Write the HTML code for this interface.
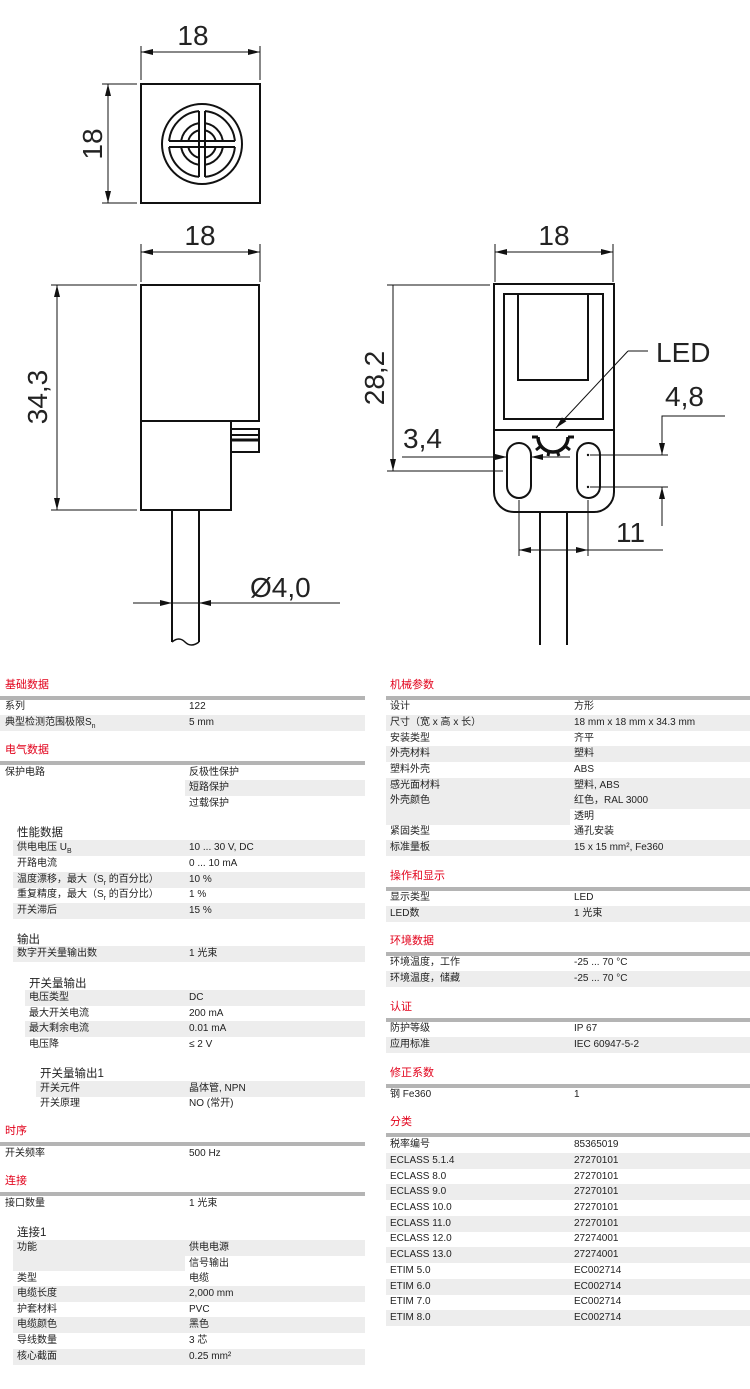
<!DOCTYPE html>
<html><head><meta charset="utf-8"><style>
body{margin:0;width:750px;height:1389px;background:#fff;position:relative;overflow:hidden;font-family:"Liberation Sans","Noto Sans CJK SC",sans-serif;color:#222}
svg{position:absolute;left:0;top:0}
.h{position:absolute;color:#e2001a;font-size:11px;line-height:14px}
.bar{position:absolute;height:4px;background:#b4b4b4}
.r{position:absolute;height:15.6px;font-size:10px;line-height:15.6px;white-space:nowrap}
.g{background:#ededed}
.s{position:absolute;font-size:11.5px;line-height:14px;color:#222}
sub{font-size:7px;vertical-align:-3px}
</style></head><body>
<svg width="750" height="670" viewBox="0 0 750 670" font-family="Liberation Sans, sans-serif" fill="none" stroke="#111">
<defs>
<marker id="a" viewBox="0 0 12 6" refX="12" refY="3" markerWidth="12" markerHeight="6" orient="auto-start-reverse" markerUnits="userSpaceOnUse"><path d="M0,0L12,3L0,6z" fill="#111" stroke="none"/></marker>
</defs>
<!-- top view -->
<rect x="141" y="84" width="119" height="119" stroke-width="2"/>
<g stroke-width="1">
<line x1="141" y1="46" x2="141" y2="80"/><line x1="260" y1="46" x2="260" y2="80"/>
<line x1="141" y1="52" x2="260" y2="52" marker-start="url(#a)" marker-end="url(#a)"/>
<line x1="102" y1="84" x2="137" y2="84"/><line x1="102" y1="203" x2="137" y2="203"/>
<line x1="108" y1="84" x2="108" y2="203" marker-start="url(#a)" marker-end="url(#a)"/>
</g>
<text x="193" y="45" font-size="28" fill="#222" stroke="none" text-anchor="middle">18</text>
<text transform="translate(102,144) rotate(-90)" font-size="28" fill="#222" stroke="none" text-anchor="middle">18</text>
<g stroke-width="2">
<circle cx="202" cy="144" r="40"/><circle cx="202" cy="144" r="33"/>
<circle cx="202" cy="144" r="21"/><circle cx="202" cy="144" r="14"/>
</g>
<rect x="199" y="109" width="6" height="70" fill="#fff" stroke="none"/>
<rect x="167" y="141" width="70" height="6" fill="#fff" stroke="none"/>
<g stroke-width="2">
<line x1="199" y1="111" x2="199" y2="177"/><line x1="205" y1="111" x2="205" y2="177"/>
<line x1="169" y1="141" x2="235" y2="141"/><line x1="169" y1="147" x2="235" y2="147"/>
</g>
<!-- side view -->
<g stroke-width="2">
<rect x="141" y="285" width="118" height="136"/>
<path d="M141,421V510H231V421"/>
<rect x="231" y="429" width="28" height="23"/>
<line x1="231" y1="435" x2="259" y2="435"/>
<line x1="231" y1="440" x2="259" y2="440" stroke-width="3"/>
<line x1="172" y1="510" x2="172" y2="642"/><line x1="199" y1="510" x2="199" y2="642"/>
<path d="M172,642q7,-6 13,0t14,0" stroke-width="1.5"/>
</g>
<g stroke-width="1">
<line x1="141" y1="244" x2="141" y2="282"/><line x1="260" y1="244" x2="260" y2="282"/>
<line x1="141" y1="252" x2="260" y2="252" marker-start="url(#a)" marker-end="url(#a)"/>
<line x1="51" y1="285" x2="137" y2="285"/><line x1="51" y1="510" x2="137" y2="510"/>
<line x1="57" y1="285" x2="57" y2="510" marker-start="url(#a)" marker-end="url(#a)"/>
<line x1="133" y1="603" x2="172" y2="603" marker-end="url(#a)"/>
<line x1="172" y1="603" x2="199" y2="603"/>
<line x1="340" y1="603" x2="199" y2="603" marker-end="url(#a)"/>
</g>
<text x="200" y="245" font-size="28" fill="#222" stroke="none" text-anchor="middle">18</text>
<text transform="translate(47,397) rotate(-90)" font-size="28" fill="#222" stroke="none" text-anchor="middle">34,3</text>
<text x="250" y="597" font-size="28" fill="#222" stroke="none">Ø4,0</text>
<!-- front view -->
<g stroke-width="2">
<path d="M494,284H614V492A20,20 0 0 1 594,512H514A20,20 0 0 1 494,492Z"/>
<rect x="504" y="294" width="99" height="125"/>
<rect x="518" y="294" width="70" height="86"/>
<line x1="494" y1="430" x2="614" y2="430"/>
<rect x="507" y="443" width="24" height="55" rx="12"/>
<rect x="577" y="443" width="23" height="55" rx="11.5"/>
<line x1="540" y1="512" x2="540" y2="645"/><line x1="567" y1="512" x2="567" y2="645"/>
</g>
<path d="M538,437a15,15 0 0 0 30,0" stroke-width="3.5"/>
<g stroke-width="3">
<line x1="538" y1="437" x2="532" y2="437"/><line x1="541" y1="446" x2="536" y2="450"/>
<line x1="549" y1="451" x2="548" y2="456"/><line x1="557" y1="451" x2="559" y2="456"/>
<line x1="565" y1="446" x2="570" y2="450"/><line x1="568" y1="437" x2="574" y2="437"/>
</g>
<circle cx="588" cy="455" r="1.2" fill="#111" stroke="none"/><circle cx="588" cy="487" r="1.2" fill="#111" stroke="none"/>
<g stroke-width="1">
<line x1="495" y1="244" x2="495" y2="282"/><line x1="613" y1="244" x2="613" y2="282"/>
<line x1="495" y1="252" x2="613" y2="252" marker-start="url(#a)" marker-end="url(#a)"/>
<line x1="387" y1="285" x2="490" y2="285"/><line x1="387" y1="471" x2="503" y2="471"/>
<line x1="393" y1="285" x2="393" y2="471" marker-end="url(#a)"/>
<line x1="402" y1="457" x2="507" y2="457" marker-end="url(#a)"/>
<line x1="570" y1="457" x2="531" y2="457" marker-end="url(#a)"/>
<line x1="648" y1="351" x2="628" y2="351"/>
<line x1="628" y1="351" x2="556" y2="428" marker-end="url(#a)"/>
<line x1="590" y1="455" x2="668" y2="455"/><line x1="590" y1="487" x2="668" y2="487"/>
<path d="M725,416H662V455" marker-end="url(#a)"/>
<line x1="662" y1="526" x2="662" y2="487" marker-end="url(#a)"/>
<line x1="519" y1="500" x2="519" y2="556"/><line x1="588" y1="500" x2="588" y2="556"/>
<line x1="540" y1="550" x2="519" y2="550" marker-end="url(#a)"/>
<line x1="567" y1="550" x2="588" y2="550" marker-end="url(#a)"/>
<line x1="540" y1="550" x2="567" y2="550"/>
<line x1="588" y1="550" x2="663" y2="550"/>
</g>
<text x="554" y="245" font-size="28" fill="#222" stroke="none" text-anchor="middle">18</text>
<text transform="translate(384,378) rotate(-90)" font-size="28" fill="#222" stroke="none" text-anchor="middle">28,2</text>
<text x="403" y="448" font-size="28" fill="#222" stroke="none">3,4</text>
<text x="656" y="362" font-size="28" fill="#222" stroke="none">LED</text>
<text x="665" y="406" font-size="28" fill="#222" stroke="none">4,8</text>
<text x="616" y="542" font-size="28" fill="#222" stroke="none">11</text>
</svg>

<!-- LEFT COLUMN -->
<div class="h" style="left:5px;top:678px">基础数据</div><div class="bar" style="left:0;width:365px;top:696px"></div>
<div class="r" style="left:0;width:365px;top:699px"><span style="position:absolute;left:5px">系列</span><span style="position:absolute;left:189px">122</span></div>
<div class="r g" style="left:0;width:365px;top:715px"><span style="position:absolute;left:5px">典型检测范围极限S<sub>n</sub></span><span style="position:absolute;left:189px">5 mm</span></div>

<div class="h" style="left:5px;top:743px">电气数据</div><div class="bar" style="left:0;width:365px;top:761px"></div>
<div class="r" style="left:0;width:365px;top:765px"><span style="position:absolute;left:5px">保护电路</span><span style="position:absolute;left:189px">反极性保护</span></div>
<div class="r g" style="left:185px;width:180px;top:780px"><span style="position:absolute;left:4px">短路保护</span></div>
<div class="r" style="left:0;width:365px;top:796px"><span style="position:absolute;left:189px">过载保护</span></div>

<div class="s" style="left:17px;top:826px">性能数据</div>
<div class="r g" style="left:13px;width:352px;top:840px"><span style="position:absolute;left:4px">供电电压 U<sub>B</sub></span><span style="position:absolute;left:176px">10 ... 30 V, DC</span></div>
<div class="r" style="left:13px;width:352px;top:856px"><span style="position:absolute;left:4px">开路电流</span><span style="position:absolute;left:176px">0 ... 10 mA</span></div>
<div class="r g" style="left:13px;width:352px;top:872px"><span style="position:absolute;left:4px">温度漂移，最大（S<sub>r</sub> 的百分比）</span><span style="position:absolute;left:176px">10 %</span></div>
<div class="r" style="left:13px;width:352px;top:887px"><span style="position:absolute;left:4px">重复精度，最大（S<sub>r</sub> 的百分比）</span><span style="position:absolute;left:176px">1 %</span></div>
<div class="r g" style="left:13px;width:352px;top:903px"><span style="position:absolute;left:4px">开关滞后</span><span style="position:absolute;left:176px">15 %</span></div>

<div class="s" style="left:17px;top:933px">输出</div>
<div class="r g" style="left:13px;width:352px;top:946px"><span style="position:absolute;left:4px">数字开关量输出数</span><span style="position:absolute;left:176px">1 光束</span></div>

<div class="s" style="left:29px;top:977px">开关量输出</div>
<div class="r g" style="left:25px;width:340px;top:990px"><span style="position:absolute;left:4px">电压类型</span><span style="position:absolute;left:164px">DC</span></div>
<div class="r" style="left:25px;width:340px;top:1006px"><span style="position:absolute;left:4px">最大开关电流</span><span style="position:absolute;left:164px">200 mA</span></div>
<div class="r g" style="left:25px;width:340px;top:1021px"><span style="position:absolute;left:4px">最大剩余电流</span><span style="position:absolute;left:164px">0.01 mA</span></div>
<div class="r" style="left:25px;width:340px;top:1037px"><span style="position:absolute;left:4px">电压降</span><span style="position:absolute;left:164px">≤ 2 V</span></div>

<div class="s" style="left:40px;top:1067px">开关量输出1</div>
<div class="r g" style="left:36px;width:329px;top:1081px"><span style="position:absolute;left:4px">开关元件</span><span style="position:absolute;left:153px">晶体管, NPN</span></div>
<div class="r" style="left:36px;width:329px;top:1096px"><span style="position:absolute;left:4px">开关原理</span><span style="position:absolute;left:153px">NO (常开)</span></div>

<div class="h" style="left:5px;top:1124px">时序</div><div class="bar" style="left:0;width:365px;top:1142px"></div>
<div class="r" style="left:0;width:365px;top:1146px"><span style="position:absolute;left:5px">开关频率</span><span style="position:absolute;left:189px">500 Hz</span></div>

<div class="h" style="left:5px;top:1174px">连接</div><div class="bar" style="left:0;width:365px;top:1192px"></div>
<div class="r" style="left:0;width:365px;top:1196px"><span style="position:absolute;left:5px">接口数量</span><span style="position:absolute;left:189px">1 光束</span></div>

<div class="s" style="left:17px;top:1226px">连接1</div>
<div class="r g" style="left:13px;width:352px;top:1240px"><span style="position:absolute;left:4px">功能</span><span style="position:absolute;left:176px">供电电源</span></div>
<div class="r g" style="left:13px;width:172px;top:1255.6px"></div>
<div class="r" style="left:185px;width:180px;top:1255.6px"><span style="position:absolute;left:4px">信号输出</span></div>
<div class="r" style="left:13px;width:352px;top:1271px"><span style="position:absolute;left:4px">类型</span><span style="position:absolute;left:176px">电缆</span></div>
<div class="r g" style="left:13px;width:352px;top:1286px"><span style="position:absolute;left:4px">电缆长度</span><span style="position:absolute;left:176px">2,000 mm</span></div>
<div class="r" style="left:13px;width:352px;top:1302px"><span style="position:absolute;left:4px">护套材料</span><span style="position:absolute;left:176px">PVC</span></div>
<div class="r g" style="left:13px;width:352px;top:1317px"><span style="position:absolute;left:4px">电缆颜色</span><span style="position:absolute;left:176px">黑色</span></div>
<div class="r" style="left:13px;width:352px;top:1333px"><span style="position:absolute;left:4px">导线数量</span><span style="position:absolute;left:176px">3 芯</span></div>
<div class="r g" style="left:13px;width:352px;top:1349px"><span style="position:absolute;left:4px">核心截面</span><span style="position:absolute;left:176px">0.25 mm²</span></div>

<!-- RIGHT COLUMN -->
<div class="h" style="left:390px;top:678px">机械参数</div><div class="bar" style="left:386px;width:364px;top:696px"></div>
<div class="r" style="left:386px;width:364px;top:699px"><span style="position:absolute;left:4px">设计</span><span style="position:absolute;left:188px">方形</span></div>
<div class="r g" style="left:386px;width:364px;top:715px"><span style="position:absolute;left:4px">尺寸（宽 x 高 x 长）</span><span style="position:absolute;left:188px">18 mm x 18 mm x 34.3 mm</span></div>
<div class="r" style="left:386px;width:364px;top:731px"><span style="position:absolute;left:4px">安装类型</span><span style="position:absolute;left:188px">齐平</span></div>
<div class="r g" style="left:386px;width:364px;top:746px"><span style="position:absolute;left:4px">外壳材料</span><span style="position:absolute;left:188px">塑料</span></div>
<div class="r" style="left:386px;width:364px;top:762px"><span style="position:absolute;left:4px">塑料外壳</span><span style="position:absolute;left:188px">ABS</span></div>
<div class="r g" style="left:386px;width:364px;top:778px"><span style="position:absolute;left:4px">感光面材料</span><span style="position:absolute;left:188px">塑料, ABS</span></div>
<div class="r g" style="left:386px;width:364px;top:793px"><span style="position:absolute;left:4px">外壳颜色</span><span style="position:absolute;left:188px">红色，RAL 3000</span></div>
<div class="r g" style="left:386px;width:184px;top:809px"></div>
<div class="r" style="left:570px;width:180px;top:809px"><span style="position:absolute;left:4px">透明</span></div>
<div class="r" style="left:386px;width:364px;top:824px"><span style="position:absolute;left:4px">紧固类型</span><span style="position:absolute;left:188px">通孔安装</span></div>
<div class="r g" style="left:386px;width:364px;top:840px"><span style="position:absolute;left:4px">标准量板</span><span style="position:absolute;left:188px">15 x 15 mm², Fe360</span></div>

<div class="h" style="left:390px;top:869px">操作和显示</div><div class="bar" style="left:386px;width:364px;top:887px"></div>
<div class="r" style="left:386px;width:364px;top:890px"><span style="position:absolute;left:4px">显示类型</span><span style="position:absolute;left:188px">LED</span></div>
<div class="r g" style="left:386px;width:364px;top:906px"><span style="position:absolute;left:4px">LED数</span><span style="position:absolute;left:188px">1 光束</span></div>

<div class="h" style="left:390px;top:934px">环境数据</div><div class="bar" style="left:386px;width:364px;top:952px"></div>
<div class="r" style="left:386px;width:364px;top:955px"><span style="position:absolute;left:4px">环境温度，工作</span><span style="position:absolute;left:188px">-25 ... 70 °C</span></div>
<div class="r g" style="left:386px;width:364px;top:971px"><span style="position:absolute;left:4px">环境温度，储藏</span><span style="position:absolute;left:188px">-25 ... 70 °C</span></div>

<div class="h" style="left:390px;top:1000px">认证</div><div class="bar" style="left:386px;width:364px;top:1018px"></div>
<div class="r" style="left:386px;width:364px;top:1021px"><span style="position:absolute;left:4px">防护等级</span><span style="position:absolute;left:188px">IP 67</span></div>
<div class="r g" style="left:386px;width:364px;top:1037px"><span style="position:absolute;left:4px">应用标准</span><span style="position:absolute;left:188px">IEC 60947-5-2</span></div>

<div class="h" style="left:390px;top:1066px">修正系数</div><div class="bar" style="left:386px;width:364px;top:1084px"></div>
<div class="r" style="left:386px;width:364px;top:1087px"><span style="position:absolute;left:4px">钢 Fe360</span><span style="position:absolute;left:188px">1</span></div>

<div class="h" style="left:390px;top:1115px">分类</div><div class="bar" style="left:386px;width:364px;top:1133px"></div>
<div class="r" style="left:386px;width:364px;top:1137px"><span style="position:absolute;left:4px">税率编号</span><span style="position:absolute;left:188px">85365019</span></div>
<div class="r g" style="left:386px;width:364px;top:1153px"><span style="position:absolute;left:4px">ECLASS 5.1.4</span><span style="position:absolute;left:188px">27270101</span></div>
<div class="r" style="left:386px;width:364px;top:1169px"><span style="position:absolute;left:4px">ECLASS 8.0</span><span style="position:absolute;left:188px">27270101</span></div>
<div class="r g" style="left:386px;width:364px;top:1184px"><span style="position:absolute;left:4px">ECLASS 9.0</span><span style="position:absolute;left:188px">27270101</span></div>
<div class="r" style="left:386px;width:364px;top:1200px"><span style="position:absolute;left:4px">ECLASS 10.0</span><span style="position:absolute;left:188px">27270101</span></div>
<div class="r g" style="left:386px;width:364px;top:1216px"><span style="position:absolute;left:4px">ECLASS 11.0</span><span style="position:absolute;left:188px">27270101</span></div>
<div class="r" style="left:386px;width:364px;top:1231px"><span style="position:absolute;left:4px">ECLASS 12.0</span><span style="position:absolute;left:188px">27274001</span></div>
<div class="r g" style="left:386px;width:364px;top:1247px"><span style="position:absolute;left:4px">ECLASS 13.0</span><span style="position:absolute;left:188px">27274001</span></div>
<div class="r" style="left:386px;width:364px;top:1263px"><span style="position:absolute;left:4px">ETIM 5.0</span><span style="position:absolute;left:188px">EC002714</span></div>
<div class="r g" style="left:386px;width:364px;top:1279px"><span style="position:absolute;left:4px">ETIM 6.0</span><span style="position:absolute;left:188px">EC002714</span></div>
<div class="r" style="left:386px;width:364px;top:1294px"><span style="position:absolute;left:4px">ETIM 7.0</span><span style="position:absolute;left:188px">EC002714</span></div>
<div class="r g" style="left:386px;width:364px;top:1310px"><span style="position:absolute;left:4px">ETIM 8.0</span><span style="position:absolute;left:188px">EC002714</span></div>
</body></html>
